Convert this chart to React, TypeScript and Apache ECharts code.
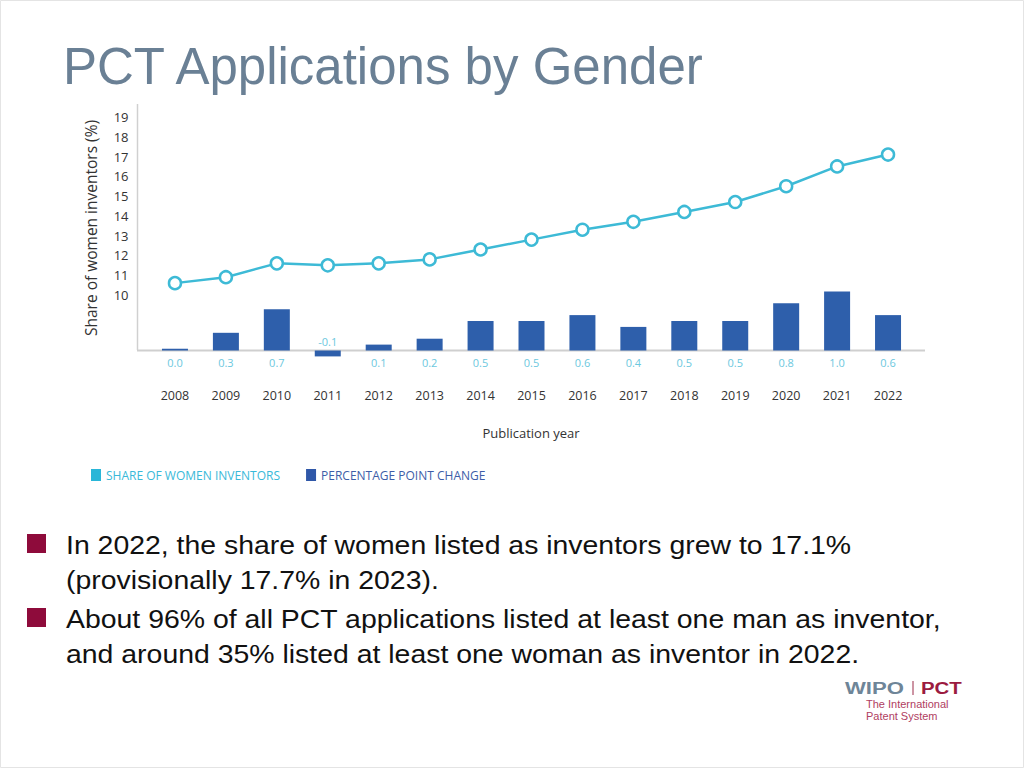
import React, { useEffect, useRef } from "react";
import * as echarts from "echarts";

const years = ["2008", "2009", "2010", "2011", "2012", "2013", "2014", "2015", "2016", "2017", "2018", "2019", "2020", "2021", "2022"];
const shareWomen = [10.6, 10.9, 11.6, 11.5, 11.6, 11.8, 12.3, 12.8, 13.3, 13.7, 14.2, 14.7, 15.5, 16.5, 17.1];
const pointChange = [0.03, 0.3, 0.7, -0.1, 0.1, 0.2, 0.5, 0.5, 0.6, 0.4, 0.5, 0.5, 0.8, 1.0, 0.6];
const yTicks = [10, 11, 12, 13, 14, 15, 16, 17, 18, 19];

const SHARE_NAME = "SHARE OF WOMEN INVENTORS";
const CHANGE_NAME = "PERCENTAGE POINT CHANGE";
const title = "PCT Applications by Gender";
const bullets = [
  ["In 2022, the share of women listed as inventors grew to 17.1%", "(provisionally 17.7% in 2023)."],
  ["About 96% of all PCT applications listed at least one man as inventor,", "and around 35% listed at least one woman as inventor in 2022."],
];

const CYAN = "#3DBAD6";
const BLUE = "#2E5FAB";
const LABEL_CYAN = "#6CC8DE";
const CHART_FONT = "'Open Sans', 'Noto Sans', sans-serif";
const SLIDE_FONT = "'Liberation Sans', Arial, sans-serif";
const RED = "#8E0B3B";

export default function App() {
  const ref = useRef<HTMLDivElement>(null);
  useEffect(() => {
    if (!ref.current) return;
    const chart = echarts.init(ref.current, null, { renderer: "svg" });

    const bulletGraphics: any[] = [];
    const lineY = [[545, 580], [619, 654]];
    bullets.forEach((lines, i) => {
      bulletGraphics.push({
        type: "rect",
        shape: { x: 27, y: lineY[i][0] - 11, width: 19, height: 19 },
        style: { fill: RED },
      });
      lines.forEach((t, j) => {
        bulletGraphics.push({
          type: "text",
          x: 66,
          y: lineY[i][j],
          scaleX: 1.073,
          style: { text: t, font: `26.5px ${SLIDE_FONT}`, fill: "#111", textAlign: "left", textVerticalAlign: "middle" },
        });
      });
    });

    chart.setOption({
      animation: false,
      backgroundColor: "#ffffff",
      grid: { left: 149.5, right: 110.5, top: 104, bottom: 410, containLabel: false },
      legend: {
        left: 86,
        top: 464,
        icon: "rect",
        itemWidth: 10,
        itemHeight: 12,
        itemGap: 26,
        textStyle: { fontFamily: CHART_FONT, fontSize: 12 },
        data: [
          { name: SHARE_NAME, itemStyle: { color: "#29B6D8", borderWidth: 0 }, textStyle: { color: "#39B9D9" } },
          { name: CHANGE_NAME, itemStyle: { color: "#2F57A8", borderWidth: 0 }, textStyle: { color: "#3D5DA8" } },
        ],
      },
      xAxis: {
        type: "category",
        data: years,
        axisLine: { show: false },
        axisTick: { show: false },
        axisLabel: { margin: 31, color: "#333", fontFamily: CHART_FONT, fontSize: 12.5 },
      },
      yAxis: [
        {
          type: "value",
          min: 6.8146,
          max: 19.657,
          axisLine: { show: false },
          axisTick: { show: false },
          splitLine: { show: false },
          axisLabel: { customValues: yTicks, margin: 21, color: "#333", fontFamily: CHART_FONT, fontSize: 13 },
        },
        {
          type: "value",
          min: -0.127,
          max: 4.178,
          show: false,
          splitLine: { show: false },
        },
      ],
      series: [
        {
          name: CHANGE_NAME,
          type: "bar",
          yAxisIndex: 1,
          barWidth: 26,
          itemStyle: { color: BLUE },
          clip: false,
          label: {
            show: true,
            position: "bottom",
            distance: 6,
            color: LABEL_CYAN,
            fontFamily: CHART_FONT,
            fontSize: 11,
            formatter: (p: any) => Number(p.value).toFixed(1),
          },
          data: pointChange.map((v) => (v < 0 ? { value: v, label: { position: "top", distance: 4 } } : v)),
          z: 2,
        },
        {
          name: SHARE_NAME,
          type: "line",
          yAxisIndex: 0,
          data: shareWomen,
          symbol: "circle",
          symbolSize: 12,
          lineStyle: { color: CYAN, width: 2.5 },
          itemStyle: { color: "#ffffff", borderColor: CYAN, borderWidth: 2.5 },
          z: 3,
        },
      ],
      graphic: [
        {
          type: "rect",
          shape: { x: 0.5, y: 0.5, width: 1023, height: 767 },
          style: { fill: "none", stroke: "#e4e4e4", lineWidth: 1 },
          z: -10,
        },
        {
          type: "text",
          x: 63,
          y: 66,
          style: { text: title, font: `51px ${SLIDE_FONT}`, fill: "#6A8095", textAlign: "left", textVerticalAlign: "middle" },
        },
        {
          type: "line",
          shape: { x1: 137.5, y1: 104, x2: 137.5, y2: 350 },
          style: { stroke: "#d0d0d0", lineWidth: 1.5 },
          z: 0,
        },
        {
          type: "line",
          shape: { x1: 137, y1: 350.5, x2: 925, y2: 350.5 },
          style: { stroke: "#cfcfcf", lineWidth: 2 },
          z: 0,
        },
        {
          type: "text",
          x: 91,
          y: 228,
          rotation: Math.PI / 2,
          style: { text: "Share of women inventors (%)", font: `15.5px ${CHART_FONT}`, fill: "#333", textAlign: "center", textVerticalAlign: "middle" },
        },
        {
          type: "text",
          x: 531,
          y: 433,
          style: { text: "Publication year", font: `13px ${CHART_FONT}`, fill: "#333", textAlign: "center", textVerticalAlign: "middle" },
        },
        ...bulletGraphics,
        {
          type: "text",
          x: 845,
          y: 688,
          scaleX: 1.3,
          style: { text: "WIPO", font: `bold 17px ${SLIDE_FONT}`, fill: "#6E8598", textAlign: "left", textVerticalAlign: "middle" },
        },
        {
          type: "line",
          shape: { x1: 913, y1: 681, x2: 913, y2: 695 },
          style: { stroke: "#9B2A48", lineWidth: 1 },
        },
        {
          type: "text",
          x: 921,
          y: 688,
          scaleX: 1.2,
          style: { text: "PCT", font: `bold 17px ${SLIDE_FONT}`, fill: "#9B1B40", textAlign: "left", textVerticalAlign: "middle" },
        },
        {
          type: "text",
          x: 866,
          y: 704,
          style: { text: "The International", font: `11px ${SLIDE_FONT}`, fill: "#B0405F", textAlign: "left", textVerticalAlign: "middle" },
        },
        {
          type: "text",
          x: 866,
          y: 716,
          style: { text: "Patent System", font: `11px ${SLIDE_FONT}`, fill: "#B0405F", textAlign: "left", textVerticalAlign: "middle" },
        },
      ],
    });
    return () => chart.dispose();
  }, []);
  return <div ref={ref} style={{ position: "fixed", left: 0, top: 0, width: 1024, height: 768, background: "#fff" }} />;
}
